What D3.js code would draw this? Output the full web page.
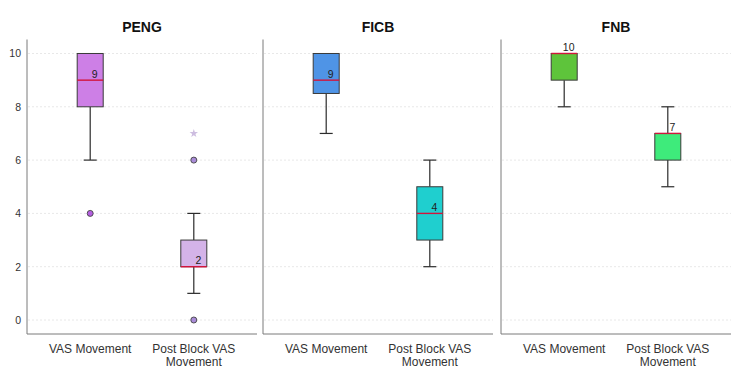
<!DOCTYPE html>
<html>
<head>
<meta charset="utf-8">
<script src="https://cdn.jsdelivr.net/npm/d3@7"></script>
<style>
  body { margin: 0; background: #fff; }
  text { font-family: "Liberation Sans", Arial, sans-serif; }
</style>
</head>
<body>
<div id="chart"></div>
<script>
// Box plot values (one row per panel, [VAS, Post Block])
const panels = ['PENG', 'FICB', 'FNB'];
const categories = ['VAS Movement', 'Post Block VAS Movement'];
const whiskerLow = [[6, 1], [7, 2], [8, 5]];
const q1Values = [[8, 2], [8.5, 3], [9, 6]];
const medians = [[9, 2], [9, 4], [10, 7]];
const q3Values = [[10, 3], [10, 5], [10, 7]];
const whiskerHigh = [[10, 4], [10, 6], [10, 8]];
const outliers = [[[4], [6, 0]], [[], []], [[], []]];
const extremes = [[[], [7]], [[], []], [[], []]];
const yTicks = [0, 2, 4, 6, 8, 10];

const boxColors = [['#cd7fe6', '#d4b3e8'], ['#4f94e6', '#1fcfcf'], ['#5ec43b', '#3eeb7b']];
const outlierColors = [['#b45fe0', '#a98bd8'], ['#4f94e6', '#1fcfcf'], ['#5ec43b', '#3eeb7b']];

const width = 750;
const height = 382;
const panelLeft = [27, 263, 501];
const panelWidth = 230;
const plotTop = 39.5;
const plotBottom = 334;

const svg = d3.select('#chart').append('svg').attr('width', width).attr('height', height);

const y = d3.scaleLinear().domain([-0.525, 10.525]).range([plotBottom, plotTop]);
const x = d3.scalePoint().domain(categories).range([0, panelWidth]).padding(0.61);
const boxW = 26;

panels.forEach((name, p) => {
  const g = svg.append('g').attr('transform', `translate(${panelLeft[p]},0)`);

  // faint dotted grid
  g.append('g')
    .selectAll('line')
    .data(yTicks)
    .join('line')
    .attr('x1', 1)
    .attr('x2', panelWidth)
    .attr('y1', (d) => y(d))
    .attr('y2', (d) => y(d))
    .attr('stroke', '#e8e8e8')
    .attr('stroke-dasharray', '2,2');

  // left axis + baseline
  g.append('line').attr('x1', 0).attr('x2', 0).attr('y1', plotTop).attr('y2', plotBottom).attr('stroke', '#7a7a7a');
  g.append('line').attr('x1', 0).attr('x2', panelWidth).attr('y1', plotBottom).attr('y2', plotBottom).attr('stroke', '#7a7a7a');

  if (p === 0) {
    g.append('g')
      .call(d3.axisLeft(y).tickValues(yTicks).tickSize(0).tickPadding(6))
      .call((a) => a.select('.domain').remove())
      .selectAll('text')
      .style('font-size', '10.5px')
      .attr('fill', '#333');
  }

  g.append('text')
    .attr('x', panelWidth / 2)
    .attr('y', 31.5)
    .attr('text-anchor', 'middle')
    .style('font-size', '14px')
    .style('font-weight', 'bold')
    .attr('fill', '#111')
    .text(name);

  // category labels
  categories.forEach((c) => {
    const words = c === 'VAS Movement' ? [c] : ['Post Block VAS', 'Movement'];
    const t = g.append('text')
      .attr('x', x(c))
      .attr('y', 353)
      .attr('text-anchor', 'middle')
      .style('font-size', '12px')
      .attr('fill', '#333');
    words.forEach((w, i) => {
      t.append('tspan').attr('x', x(c)).attr('dy', i ? 12.5 : 0).text(w);
    });
  });

  categories.forEach((c, k) => {
    const cx = x(c);
    const lo = whiskerLow[p][k];
    const hi = whiskerHigh[p][k];
    const a = q1Values[p][k];
    const b = q3Values[p][k];
    const med = medians[p][k];

    // whiskers
    const wg = g.append('g').attr('stroke', '#2b2b2b').attr('stroke-width', 1.2);
    if (lo < a) {
      wg.append('line').attr('x1', cx).attr('x2', cx).attr('y1', y(lo)).attr('y2', y(a));
      wg.append('line').attr('x1', cx - boxW / 4).attr('x2', cx + boxW / 4).attr('y1', y(lo)).attr('y2', y(lo));
    }
    if (hi > b) {
      wg.append('line').attr('x1', cx).attr('x2', cx).attr('y1', y(hi)).attr('y2', y(b));
      wg.append('line').attr('x1', cx - boxW / 4).attr('x2', cx + boxW / 4).attr('y1', y(hi)).attr('y2', y(hi));
    }

    g.append('rect')
      .attr('x', cx - boxW / 2)
      .attr('y', y(b))
      .attr('width', boxW)
      .attr('height', y(a) - y(b))
      .attr('fill', boxColors[p][k])
      .attr('stroke', '#3a3a3a')
      .attr('stroke-width', 1);

    g.append('line')
      .attr('x1', cx - boxW / 2)
      .attr('x2', cx + boxW / 2)
      .attr('y1', y(med))
      .attr('y2', y(med))
      .attr('stroke', '#d2143c')
      .attr('stroke-width', 1.4);

    g.append('text')
      .attr('x', cx + 4.5)
      .attr('y', y(med) - 2.5)
      .attr('text-anchor', 'middle')
      .style('font-size', '10.5px')
      .attr('fill', '#222')
      .text(med);

    g.append('g')
      .selectAll('circle')
      .data(outliers[p][k])
      .join('circle')
      .attr('cx', cx)
      .attr('cy', (d) => y(d))
      .attr('r', 3)
      .attr('fill', outlierColors[p][k])
      .attr('stroke', '#444')
      .attr('stroke-width', 0.9);

    g.append('g')
      .selectAll('path')
      .data(extremes[p][k])
      .join('path')
      .attr('transform', (d) => `translate(${cx},${y(d)})`)
      .attr('d', d3.symbol(d3.symbolStar, 22))
      .attr('fill', '#cdbde0');
  });
});
</script>
</body>
</html>
